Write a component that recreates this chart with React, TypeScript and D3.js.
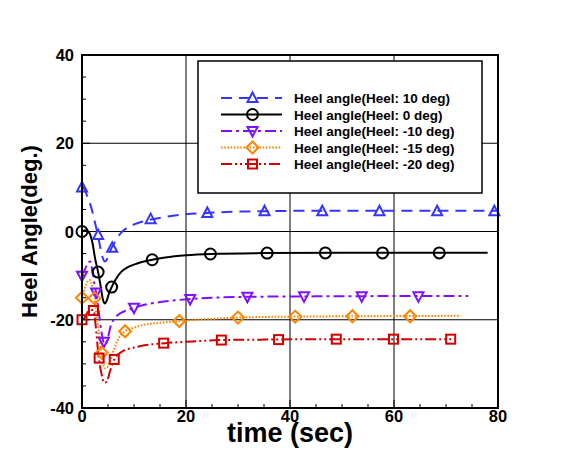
import React from "react";
import * as d3 from "d3";

// ---- data ----
const xTicks = [0, 20, 40, 60, 80];
const yTicks = [-40, -20, 0, 20, 40];

const t10 = [0, 0.5, 1, 1.5, 2, 2.5, 3, 3.5, 4, 4.4, 4.8, 5.2, 5.7, 6.5, 7.5, 8.5, 10, 11.5, 13.2, 16, 20, 24, 30, 35, 45, 60, 80];
const v10 = [10, 9.5, 8, 6.5, 4.5, 2, -0.5, -3.5, -6, -6.8, -6.3, -5, -3.7, -2, -0.3, 0.7, 1.6, 2.2, 2.7, 3.3, 3.9, 4.2, 4.5, 4.6, 4.7, 4.7, 4.7];
const m10t = [0, 3.1, 5.8, 13.2, 24.1, 35.1, 46.2, 57.2, 68.3, 79.3];
const m10v = [10, -0.8, -3.7, 2.8, 4.2, 4.6, 4.6, 4.6, 4.6, 4.6];

const t0 = [0, 0.8, 1.5, 2, 2.5, 3.1, 3.6, 4.0, 4.4, 4.8, 5.2, 5.7, 6.5, 7.5, 8.5, 10, 11.5, 13.5, 16, 20, 25, 35, 50, 78];
const v0 = [0, 0.3, -0.5, -2.5, -6, -9.2, -12.5, -15.3, -16.3, -15.5, -14, -12.6, -10.8, -9.2, -8.3, -7.5, -6.9, -6.4, -5.9, -5.4, -5.1, -4.9, -4.8, -4.8];
const m0t = [0, 3.1, 5.7, 13.5, 24.7, 35.6, 46.8, 57.8, 68.7];
const m0v = [0, -9.2, -12.6, -6.4, -5.1, -4.9, -4.85, -4.85, -4.85];

const tm10 = [0, 0.6, 1.2, 1.6, 2, 2.4, 2.7, 3.2, 3.7, 4.2, 4.6, 5, 5.5, 6.2, 7, 8.5, 10, 12, 15, 20.8, 25, 32, 45, 74.3];
const vm10 = [-10, -8.5, -7, -6.8, -9, -12, -13.8, -18, -22.5, -25.2, -25.5, -24, -21.5, -19.8, -18.8, -17.9, -17.3, -16.6, -16, -15.3, -15, -14.8, -14.7, -14.6];
const mm10t = [0, 2.7, 4.2, 10, 20.8, 31.8, 42.7, 53.8, 64.7];
const mm10v = [-10, -13.8, -25, -17.3, -15.3, -14.8, -14.7, -14.7, -14.7];

const tm15 = [0, 0.5, 1, 1.5, 2, 2.4, 2.8, 3.3, 3.7, 4.1, 4.5, 5, 5.5, 6.2, 7, 8.3, 10, 12, 15, 18.7, 25, 30, 40, 55, 72.8];
const vm15 = [-15, -13, -11.5, -11, -12.5, -15, -19, -23.5, -27.3, -30, -31, -30.5, -29, -26.5, -24.3, -22.6, -21.8, -21.1, -20.7, -20.3, -19.8, -19.5, -19.3, -19.2, -19.1];
const mm15t = [0, 2.4, 3.8, 8.3, 18.7, 30, 41, 52, 63.1];
const mm15v = [-15, -15.1, -27.5, -22.6, -20.3, -19.5, -19.3, -19.2, -19.2];

const tm20 = [0, 0.5, 1, 1.5, 2.2, 2.6, 3.2, 3.7, 4.3, 4.8, 5.3, 6.2, 7.6, 10, 12, 16, 20, 26.8, 35, 50, 71];
const vm20 = [-20, -19.5, -18.5, -17.8, -17.8, -21, -28.5, -32, -34.3, -34, -32, -29, -27.3, -26.3, -25.8, -25.3, -25, -24.6, -24.5, -24.4, -24.4];
const mm20t = [0, 2.2, 3.3, 6.2, 15.7, 26.8, 37.8, 48.9, 59.9, 70.9];
const mm20v = [-20, -17.9, -28.7, -29, -25.3, -24.6, -24.5, -24.4, -24.4, -24.4];

const seriesNames = [
  "Heel angle(Heel: 10 deg)",
  "Heel angle(Heel: 0 deg)",
  "Heel angle(Heel: -10 deg)",
  "Heel angle(Heel: -15 deg)",
  "Heel angle(Heel: -20 deg)",
];

type Sym = "tri" | "circ" | "itri" | "diam" | "sq";
const series = [
  { name: seriesNames[0], t: t10, v: v10, mt: m10t, mv: m10v, color: "#3535ff", dash: "11,7", sym: "tri" as Sym },
  { name: seriesNames[1], t: t0, v: v0, mt: m0t, mv: m0v, color: "#000000", dash: "", sym: "circ" as Sym },
  { name: seriesNames[2], t: tm10, v: vm10, mt: mm10t, mv: mm10v, color: "#7f10ff", dash: "11,4,3,4", sym: "itri" as Sym },
  { name: seriesNames[3], t: tm15, v: vm15, mt: mm15t, mv: mm15v, color: "#ff8400", dash: "1.6,1.6", sym: "diam" as Sym },
  { name: seriesNames[4], t: tm20, v: vm20, mt: mm20t, mv: mm20v, color: "#d40000", dash: "11,3,2,3,2,3", sym: "sq" as Sym },
];

const W = 567, H = 460;
const L = 82, R = 498, T = 55, B = 408;
const FONT = "'Liberation Sans', Arial, Helvetica, sans-serif";

function Marker({ sym, x, y, color }: { sym: Sym; x: number; y: number; color: string }) {
  const s = 5;
  const common = { fill: "none", stroke: color, strokeWidth: 2 };
  if (sym === "circ") return <circle cx={x} cy={y} r={5.5} {...common} />;
  if (sym === "sq") return <rect x={x - 4.5} y={y - 4.5} width={9} height={9} {...common} />;
  if (sym === "diam") return <path d={`M${x},${y - 6}L${x + 6},${y}L${x},${y + 6}L${x - 6},${y}Z`} {...common} />;
  if (sym === "tri") return <path d={`M${x},${y - s - 0.5}L${x + s},${y + s - 1}L${x - s},${y + s - 1}Z`} {...common} />;
  return <path d={`M${x},${y + s + 0.5}L${x + s},${y - s + 1}L${x - s},${y - s + 1}Z`} {...common} />;
}

export default function App() {
  const x = d3.scaleLinear().domain([0, 80]).range([L, R]);
  const y = d3.scaleLinear().domain([-40, 40]).range([B, T]);
  const line = d3
    .line<[number, number]>()
    .x((d) => x(d[0]))
    .y((d) => y(d[1]))
    .curve(d3.curveMonotoneX);

  const xMinor = d3.range(0, 80.01, 5);
  const yMinor = d3.range(-40, 40.01, 5);

  const legX0 = 221, legX1 = 282, legTx = 294;
  const legY = [98, 114.5, 131, 147.5, 164];

  return (
    <svg width={W} height={H} style={{ position: "absolute", left: 0, top: 0, background: "#fff" }} fontFamily={FONT}>
      <rect x={0} y={0} width={W} height={H} fill="#fff" />
      {/* grid */}
      {xTicks.filter((d) => d > 0 && d < 80).map((d) => (
        <line key={"gx" + d} x1={x(d)} x2={x(d)} y1={T} y2={B} stroke="#000" strokeWidth={1} />
      ))}
      {yTicks.filter((d) => d > -40 && d < 40).map((d) => (
        <line key={"gy" + d} x1={L} x2={R} y1={y(d)} y2={y(d)} stroke="#000" strokeWidth={1} />
      ))}
      {/* minor/major ticks */}
      {xMinor.map((d) => (
        <line key={"tx" + d} x1={x(d)} x2={x(d)} y1={B} y2={B - (d % 20 === 0 ? 8 : 4)} stroke="#000" strokeWidth={1} />
      ))}
      {yMinor.map((d) => (
        <line key={"ty" + d} x1={L} x2={L + (d % 20 === 0 ? 8 : 4)} y1={y(d)} y2={y(d)} stroke="#000" strokeWidth={1} />
      ))}
      {/* curves */}
      {series.map((s) => (
        <path
          key={"c" + s.name}
          d={line(s.t.map((t, i) => [t, s.v[i]] as [number, number])) || ""}
          fill="none"
          stroke={s.color}
          strokeWidth={2}
          strokeDasharray={s.dash || undefined}
        />
      ))}
      {series.map((s) =>
        s.mt.map((t, i) => <Marker key={s.name + "m" + i} sym={s.sym} x={x(t)} y={y(s.mv[i])} color={s.color} />)
      )}
      {/* legend */}
      <rect x={198} y={61} width={284} height={132} fill="#fff" stroke="#000" strokeWidth={1.5} />
      {series.map((s, i) => (
        <g key={"l" + s.name}>
          <line x1={legX0} x2={legX1} y1={legY[i]} y2={legY[i]} stroke={s.color} strokeWidth={2} strokeDasharray={s.dash || undefined} />
          <Marker sym={s.sym} x={(legX0 + legX1) / 2 + 1} y={legY[i]} color={s.color} />
          <text x={legTx} y={legY[i] + 5} fontSize={13.5} fontWeight="bold" fill="#000">
            {s.name}
          </text>
        </g>
      ))}
      {/* frame */}
      <rect x={L} y={T} width={R - L} height={B - T} fill="none" stroke="#000" strokeWidth={2} />
      {/* tick labels */}
      {xTicks.map((d) => (
        <text key={"xl" + d} x={x(d)} y={422} textAnchor="middle" fontSize={16.5} fontWeight="bold">
          {d}
        </text>
      ))}
      {yTicks.map((d) => (
        <text key={"yl" + d} x={74} y={y(d) + 6} textAnchor="end" fontSize={16.5} fontWeight="bold">
          {d}
        </text>
      ))}
      {/* axis titles */}
      <text x={(L + R) / 2} y={442} textAnchor="middle" fontSize={27} fontWeight="bold">
        time (sec)
      </text>
      <text transform={`translate(37,${(T + B) / 2}) rotate(-90)`} textAnchor="middle" fontSize={22} fontWeight="bold">
        Heel Angle(deg.)
      </text>
    </svg>
  );
}
